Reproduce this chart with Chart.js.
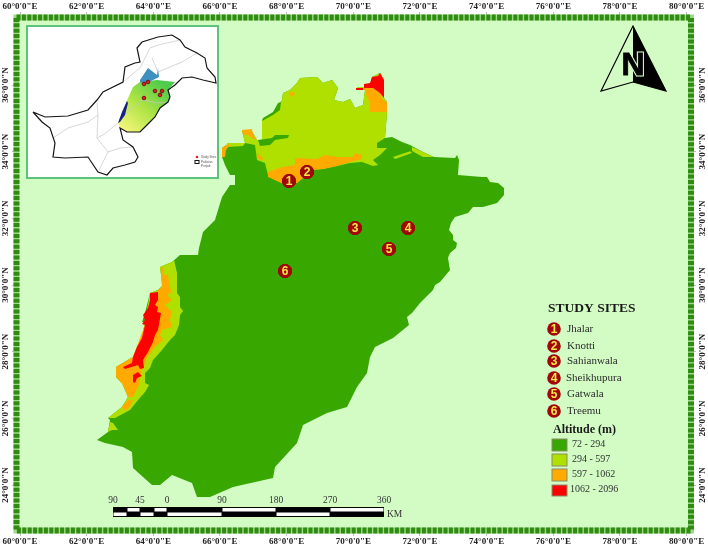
<!DOCTYPE html>
<html><head><meta charset="utf-8">
<style>html,body{margin:0;padding:0;background:#fff}canvas{display:block}</style>
<script src="https://cdn.jsdelivr.net/npm/chart.js@4"></script></head>
<body><div style="width:708px;height:548px"><canvas id="c" width="708" height="548"></canvas></div>
<script>
// tick values
const lonTicks=[60,62,64,66,68,70,72,74,76,78,80];
const latTicks=[24,26,28,30,32,34,36];
// altitude classes
const altitudeLabels=["72 - 294","294 - 597","597 - 1062","1062 - 2096"];
const altitudeColors=["#38a800","#b0e000","#ffaa00","#ff0000"];
// study sites
const siteNames=["Jhalar","Knotti","Sahianwala","Sheikhupura","Gatwala","Treemu"];
const siteLon=[68.07,68.61,70.05,71.64,71.07,67.95];
const siteLat=[33.12,33.39,31.71,31.71,31.08,30.42];
// scale bar
const scaleLabels=["90","45","0","90","180","270","360"];
// polygons as lon,lat pairs
const northTopEdge=[66.75,34.26,66.66,34.65,66.93,34.65,67.02,34.50,67.11,34.35,67.26,34.35,67.26,34.95,67.59,35.16,67.86,35.55,67.89,35.76,68.10,35.85,68.31,36.06,68.40,36.21,68.91,36.24,69.09,36.06,69.36,36.15,69.54,35.91,69.42,35.55,69.69,35.49,69.90,35.58,70.05,35.31,70.29,35.40,70.35,35.85,70.11,35.85,70.11,35.94,70.50,35.94,70.56,36.24,70.80,36.36,70.92,36.15,70.92,35.61,71.01,35.49,71.01,35.19,70.95,34.41];
const outerEast=[71.16,34.44,71.46,34.29,71.70,34.20,72.09,33.99,72.42,33.84,73.05,33.81,73.11,33.90,73.17,33.75,73.14,33.30,73.86,33.24,74.01,33.24,74.10,33.09,74.34,33.06,74.52,32.91,74.52,32.70,74.31,32.46,73.89,32.34,73.59,32.34,73.44,32.16,73.05,32.04,72.93,31.86,72.87,31.65,72.99,31.50,72.99,31.35,73.11,31.26,73.08,31.11,72.90,30.96,72.84,30.81,72.90,30.45,72.60,30.09,72.45,30.00,72.39,29.85,72.24,29.70,72.00,29.46,71.76,29.16,71.61,29.04,71.67,28.80,71.19,28.41,70.65,28.14,70.50,27.84,70.41,27.36,70.11,26.94,69.81,26.34,69.21,26.16,68.49,25.80,68.31,25.26,67.65,24.54,67.59,24.21,66.39,23.94,65.70,23.64,65.31,23.64,65.16,24.06,64.56,24.30,64.20,24.00,63.96,24.00,63.39,24.51,63.36,24.99,63.09,25.14,62.55,25.26,62.31,25.35,62.64,25.59,62.70,25.95,62.64,26.01,63.06,26.34,63.24,26.64,63.06,27.06,62.88,27.24,62.88,27.54,63.39,27.84,63.51,28.14,63.66,28.44,63.75,28.89,63.66,28.89,63.75,29.16,63.90,29.76,64.14,29.85,64.35,30.06,64.26,30.09,64.20,30.54,64.56,30.69,64.80,30.90,65.34,30.90,65.37,31.11,65.49,31.59,65.85,31.95,66.06,32.64,66.30,33.00,66.45,33.00,66.45,33.30,66.30,33.30,66.15,33.60,66.06,33.84,66.06,34.11,66.24,34.23,66.36,34.26];
const northSouthEdge=[70.71,34.26,70.71,34.11,71.01,34.11,70.80,33.90,70.59,33.75,70.74,33.60,70.59,33.57,70.26,33.69,69.90,33.66,69.51,33.57,69.09,33.48,68.70,33.45,68.31,33.06,67.89,33.06,67.65,33.15,67.44,33.30,67.35,33.66,67.11,33.75,67.05,34.20];
const yellowSliverNW=[66.21,34.26,66.75,34.26,66.69,34.17,66.21,34.14];
const yellowStripE1=[71.76,34.14,72.09,33.99,72.42,33.84,72.09,33.84,71.76,34.02];
const yellowStripE2=[71.19,33.84,71.70,34.01,71.76,33.96,71.25,33.78];
const yellowSW=[64.20,30.54,64.56,30.69,64.62,30.75,64.71,30.36,64.71,29.76,64.80,29.64,64.80,29.34,64.89,29.22,64.80,29.10,64.77,28.80,64.65,28.50,64.50,28.35,64.26,28.05,63.99,27.75,63.90,27.51,63.75,27.36,63.75,27.06,63.87,27.00,63.75,26.79,63.54,26.55,63.30,26.25,62.85,26.01,62.64,26.01,63.06,26.34,63.24,26.64,63.06,27.06,62.88,27.24,62.88,27.54,63.39,27.84,63.51,28.14,63.66,28.44,63.75,28.89,63.90,29.76,64.14,29.85,64.35,30.06,64.26,30.09];
const yellowSWsmall=[62.70,25.89,62.79,25.86,62.94,25.65,62.76,25.65,62.64,25.59];
const greenNotch=[67.14,34.35,67.56,34.41,67.65,34.50,68.07,34.50,68.04,34.41,67.65,34.35,67.50,34.20,67.20,34.17];
const greenEdgeStrip=[67.74,35.46,67.83,35.49,67.80,35.25,67.59,35.10,67.26,34.92,67.29,35.01,67.59,35.19];
const orangeNorth=[67.44,33.39,67.86,33.54,68.25,33.60,68.25,33.81,68.91,33.78,69.15,33.90,69.54,33.84,69.99,33.84,70.05,33.96,70.26,33.90,70.26,33.78,69.90,33.69,69.51,33.57,69.09,33.48,68.79,33.45,68.31,33.06,67.89,33.03,67.65,33.15,67.44,33.24];
const orangeNE=[70.32,35.91,70.59,35.91,70.80,35.76,70.89,35.55,71.01,35.49,71.01,35.19,70.50,35.19,70.50,35.46,70.41,35.64];
const orangeBump=[66.66,34.65,66.96,34.68,66.99,34.50,67.11,34.35,66.96,34.41,66.84,34.50,66.69,34.50];
const orangeBit=[67.11,33.96,67.26,33.84,67.29,33.75,67.11,33.78];
const orangeSpeck=[68.07,35.79,68.25,35.76,68.19,35.64,68.10,35.70];
const orangeNW=[66.06,33.84,66.06,34.11,66.24,34.23,66.30,34.20,66.18,34.05,66.15,33.84];
const orangeSW=[64.23,30.54,64.32,30.54,64.32,30.30,64.44,30.30,64.50,29.91,64.56,29.79,64.41,29.70,64.56,29.55,64.35,29.40,64.56,29.19,64.50,28.95,64.56,28.74,64.26,28.65,64.20,28.50,64.29,28.35,64.05,28.14,63.81,27.81,63.69,27.51,63.60,27.30,63.60,27.06,63.39,26.64,63.24,26.64,63.09,27.00,62.88,27.24,62.88,27.54,63.39,27.84,64.14,29.85,64.26,29.94,64.23,30.30];
const orangeSWsmall=[63.06,26.34,63.24,26.55,63.39,26.55,63.30,26.34,63.15,26.22];
const redNorth=[70.32,36.03,70.50,36.06,70.56,36.24,70.74,36.27,70.80,36.36,70.92,36.15,70.92,35.61,70.80,35.76,70.59,35.91,70.32,35.91];
const redDash=[70.08,35.91,70.29,35.91,70.29,35.85,70.08,35.85];
const redSW=[63.90,29.76,64.14,29.79,64.14,29.55,64.05,29.40,64.14,29.34,64.11,29.19,64.23,29.16,64.14,28.65,64.05,28.50,63.99,28.29,63.84,27.99,63.69,27.75,63.72,27.51,63.60,27.48,63.54,27.60,63.15,27.48,63.09,27.54,63.36,27.66,63.39,27.84,63.51,28.14,63.66,28.41,63.75,28.80,63.66,28.83,63.75,28.95,63.69,29.10,63.84,29.31,63.90,29.55];
const redSWsmall=[63.39,27.30,63.54,27.39,63.66,27.27,63.51,27.21,63.45,27.06,63.39,27.09];
// inset map
const insetPakistan=[60.39,35.19,60.75,35.04,61.44,35.07,62.04,35.25,62.31,35.55,62.49,35.79,63.09,36.09,63.15,36.54,63.45,36.66,63.60,36.69,63.51,37.11,63.66,37.29,64.14,37.44,64.56,37.50,64.80,37.35,64.95,37.14,65.31,36.96,65.55,36.81,65.61,36.51,65.85,36.24,65.88,36.06,65.49,36.15,65.16,36.24,64.86,36.21,64.65,36.00,64.44,35.85,64.50,35.64,64.44,35.49,64.20,35.31,64.05,35.04,63.81,34.80,63.60,34.59,63.21,34.59,63.00,34.71,63.09,34.35,63.39,34.14,63.54,33.84,63.45,33.69,63.15,33.60,62.79,33.51,62.61,33.30,62.34,33.39,62.04,33.84,61.35,33.81,60.99,33.84,61.05,34.26,60.90,34.71,60.66,34.89];
const insetPunjab=[62.94,34.86,63.15,35.40,63.39,35.94,63.60,36.09,64.11,36.15,64.65,36.09,64.44,35.85,64.50,35.64,64.44,35.49,64.20,35.31,64.05,35.04,63.81,34.80,63.60,34.59,63.21,34.59,63.00,34.71];
const insetBlueTop=[63.60,36.15,63.84,36.51,64.11,36.30,64.14,36.51,64.17,36.24,63.99,36.15,63.75,36.03,63.60,36.09];
const insetBlueWest=[62.94,34.86,63.06,35.19,63.21,35.52,63.24,35.46,63.15,35.10,63.00,34.89];
const insetRoads=[
 [60.99,34.41,61.44,34.71,62.04,34.89,62.34,35.10,62.31,35.46],
 [62.34,35.10,62.31,34.41,62.64,33.99,62.34,33.39],
 [62.94,34.86,62.49,34.50,62.31,34.41],
 [62.64,33.99,63.00,34.11,63.39,34.14],
 [63.09,36.09,63.60,36.51,63.90,37.11,64.14,37.20,64.80,37.35],
 [63.96,36.81,64.14,36.39,64.86,36.69,65.31,36.96],
 [63.15,35.10,63.66,35.55,64.14,35.46,64.44,35.49]];
const insetSiteLon=[63.72,63.84,64.05,64.26,64.20,63.72];
const insetSiteLat=[36.03,36.09,35.82,35.82,35.70,35.61];

const pts=a=>{const r=[];for(let i=0;i<a.length;i+=2)r.push({x:a[i],y:a[i+1]});return r;};
const closed=a=>{const r=pts(a);r.push(r[0]);return r;};
const poly=(a,color)=>({data:closed(a),showLine:true,fill:'shape',backgroundColor:color,borderWidth:0,borderColor:color,pointRadius:0});
const [G,Y,O,R]=altitudeColors;
const punjabGrad=c=>{const g=c.chart.ctx.createLinearGradient(165,85,125,132);g.addColorStop(0,'#4ccb4c');g.addColorStop(.5,'#aee444');g.addColorStop(1,'#f6f67c');return g;};
const layers=[
 poly(northTopEdge.concat(outerEast),G),
 poly(northTopEdge.concat(northSouthEdge),Y),
 poly(yellowSliverNW,Y),poly(yellowStripE1,Y),poly(yellowStripE2,Y),poly(yellowSW,Y),poly(yellowSWsmall,Y),
 poly(greenNotch,G),poly(greenEdgeStrip,G),
 poly(orangeNorth,O),poly(orangeNE,O),poly(orangeBump,O),poly(orangeBit,O),poly(orangeSpeck,O),poly(orangeNW,O),poly(orangeSW,O),poly(orangeSWsmall,O),
 poly(redNorth,R),poly(redDash,R),poly(redSW,R),poly(redSWsmall,R),
 poly(insetPunjab,punjabGrad),poly(insetBlueTop,'#3f8fc0'),poly(insetBlueWest,'#14208c'),
 ...insetRoads.map(r=>({data:pts(r),showLine:true,fill:false,borderColor:'#c6c6c6',borderWidth:.7,pointRadius:0})),
 {data:closed(insetPakistan),showLine:true,fill:false,borderColor:'#151515',borderWidth:1.2,pointRadius:0},
 {data:insetSiteLon.map((x,i)=>({x,y:insetSiteLat[i]})),showLine:false,backgroundColor:'#e02020',borderColor:'#7a1010',borderWidth:1,pointRadius:1.8},
 {label:'sites',data:siteLon.map((x,i)=>({x,y:siteLat[i]})),showLine:false,backgroundColor:'#a00808',borderColor:'#8a0505',borderWidth:1,pointRadius:6.6}
];
const SERIF='"Liberation Serif"';
const badge=(ctx,x,y,r,n)=>{ctx.beginPath();ctx.arc(x,y,r,0,Math.PI*2);ctx.fillStyle='#a00808';ctx.fill();
 ctx.fillStyle='#ffe64a';ctx.font='bold 12px "Liberation Sans"';ctx.textAlign='center';ctx.textBaseline='middle';ctx.fillText(String(n),x,y+.5);};
const decor={id:'decor',
 beforeDatasetsDraw(ch){const c=ch.ctx,a=ch.chartArea;c.save();
  c.fillStyle='#d2fcc4';c.fillRect(a.left,a.top,a.right-a.left,a.bottom-a.top);
  c.fillStyle='#fff';c.fillRect(27,26,191,152);
  c.strokeStyle='#5cc47a';c.lineWidth=2;c.strokeRect(27,26,191,152);
  c.restore();},
 afterDatasetsDraw(ch){const c=ch.ctx;c.save();
  // frame
  c.strokeStyle='#9fd88c';c.lineWidth=6;c.strokeRect(16.5,17.5,674.5,513);
  c.strokeStyle='#2f8c10';c.setLineDash([4,1.4]);c.strokeRect(16.5,17.5,674.5,513);c.setLineDash([]);
  // site numbers
  const m=ch.data.datasets.findIndex(d=>d.label==='sites');
  ch.getDatasetMeta(m).data.forEach((p,i)=>badge(c,p.x,p.y,7,i+1));
  // inset legend
  c.fillStyle='#e02020';c.beginPath();c.arc(197,157,1.3,0,7);c.fill();
  c.strokeStyle='#111';c.lineWidth=1;c.strokeRect(195,160.5,4,3);
  c.fillStyle='#555';c.font='3px "Liberation Sans"';c.textAlign='left';c.textBaseline='middle';
  c.fillText('Study Sites',201,157);c.fillText('Pakistan',201,162);c.fillText('Punjab',201,166);
  // north arrow
  c.beginPath();c.moveTo(633,26);c.lineTo(666,91);c.lineTo(633,82);c.closePath();c.fillStyle='#000';c.fill();
  c.beginPath();c.moveTo(633,26);c.lineTo(601,91);c.lineTo(633,82);c.lineTo(666,91);c.closePath();c.strokeStyle='#000';c.lineWidth=1.2;c.stroke();
  c.font='bold 32px "Liberation Sans"';c.textAlign='center';c.textBaseline='middle';c.lineWidth=3;c.strokeStyle='#d2fcc4';c.strokeText('N',633,66);c.fillStyle='#000';c.fillText('N',633,66);c.lineWidth=.8;c.strokeStyle='#000';c.strokeText('N',633,66);
  // study sites legend
  c.fillStyle='#1a1a1a';c.font='bold 13.5px '+SERIF;c.textAlign='left';c.fillText('STUDY SITES',548,308.5);
  const ly=[329,346,361,378,394,411],lx=[567,567,567,566,567,567];
  siteNames.forEach((n,i)=>{badge(c,554,ly[i],6.8,i+1);c.fillStyle='#2a2a2a';c.font='11px '+SERIF;c.textAlign='left';c.textBaseline='middle';c.fillText(n,lx[i],ly[i]);});
  // altitude legend
  c.fillStyle='#1a1a1a';c.font='bold 12px '+SERIF;c.fillText('Altitude (m)',553,430);
  const by=[439,454,469,485],bh=[12,12,12,11],ty=[444,459,474,489],tx=[572,572,572,570];
  altitudeLabels.forEach((t,i)=>{c.fillStyle=altitudeColors[i];c.fillRect(552,by[i],15,bh[i]);c.strokeStyle='#8a8a6a';c.lineWidth=1;c.strokeRect(552,by[i],15,bh[i]);
    c.fillStyle='#333';c.font='10px '+SERIF;c.textAlign='left';c.fillText(t,tx[i],ty[i]);});
  // scale bar
  const sx=[113,127,140,154,167,222,276,330,384];
  c.fillStyle='#000';c.fillRect(113,507,271,10);
  c.fillStyle='#fff';
  for(let i=0;i<8;i++){const up=i%2===1;c.fillRect(sx[i]+.5,up?508:512.5,sx[i+1]-sx[i]-1,3.5);}
  const lp=[113,140,167,222,276,330,384];
  c.fillStyle='#333';c.font='9.5px '+SERIF;c.textAlign='center';
  scaleLabels.forEach((t,i)=>c.fillText(t,lp[i],500));
  c.textAlign='left';c.fillText('KM',387,514);
  c.restore();}
};
const tickFont={family:SERIF,size:9,weight:'bold'};
const fit=(k,v)=>s=>{s[k]=v;};
const xAxis=(pos)=>({type:'linear',position:pos,min:60,max:80.04,afterFit:fit('height',20),
  afterBuildTicks:s=>{s.ticks=lonTicks.map(v=>({value:v}));},
  grid:{drawOnChartArea:false,drawTicks:true,tickLength:8,color:'#bdbdbd',lineWidth:1},border:{display:false},
  ticks:{autoSkip:false,maxRotation:0,minRotation:0,padding:0,color:'#222',font:tickFont,callback:v=>v+"°0'0\"E"}});
const yAxis=(pos)=>({type:'linear',position:pos,min:22.71,max:37.95,afterFit:fit('width',20),
  afterBuildTicks:s=>{s.ticks=latTicks.slice().reverse().map(v=>({value:v}));},
  grid:{drawOnChartArea:false,drawTicks:true,tickLength:8,color:'#bdbdbd',lineWidth:1},border:{display:false},
  ticks:{autoSkip:false,minRotation:90,maxRotation:90,crossAlign:'center',padding:-11.5,color:'#222',font:tickFont,callback:v=>v+"°0'0\"N"}});
new Chart(document.getElementById('c'),{type:'scatter',
 data:{datasets:layers.slice().reverse()},
 options:{responsive:false,animation:false,events:[],layout:{padding:0},
  plugins:{legend:{display:false},tooltip:{enabled:false},title:{display:false}},
  scales:{x:xAxis('bottom'),xTop:xAxis('top'),y:yAxis('left'),yRight:yAxis('right')}},
 plugins:[decor]});
</script></body></html>
